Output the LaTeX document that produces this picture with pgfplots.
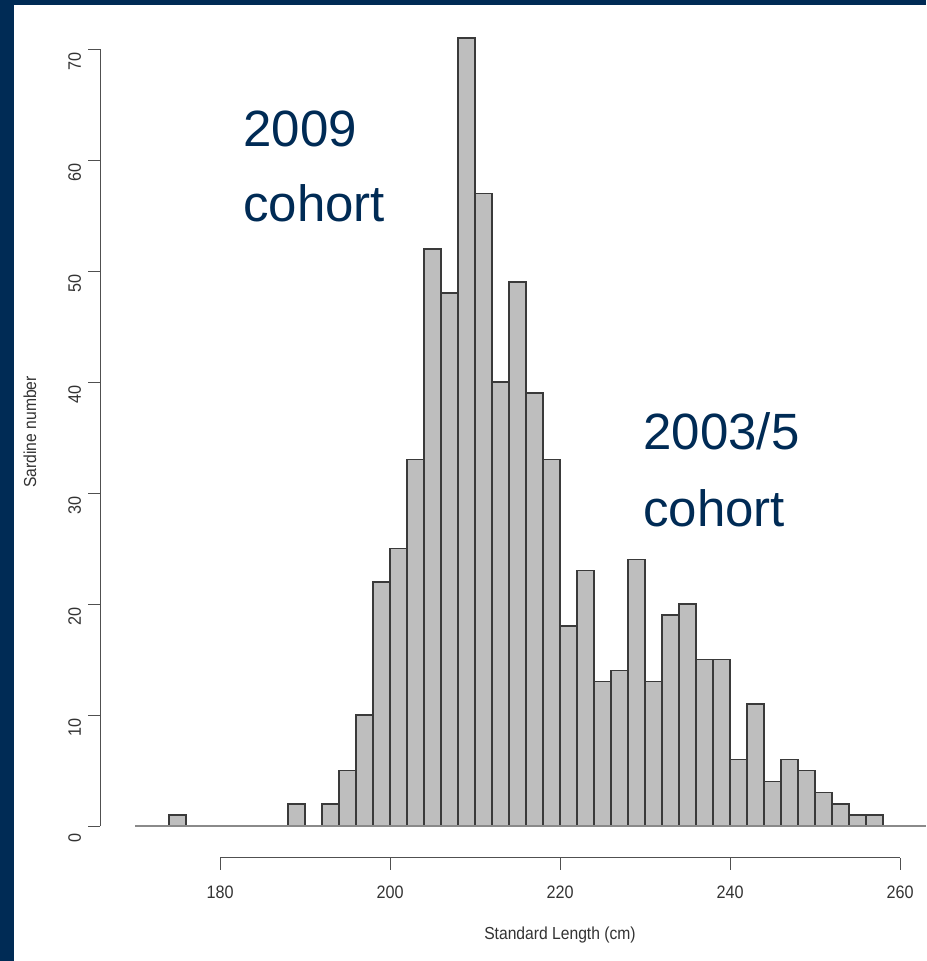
\documentclass[border=0pt]{standalone}
\usepackage{pgfplots}
\pgfplotsset{compat=1.18}
\usepackage{fontspec}
\setmainfont{Liberation Sans}
\newfontfamily\rfont[FakeStretch=0.9]{Liberation Sans}
\definecolor{navy}{HTML}{002B55}
\definecolor{barfill}{HTML}{BEBEBE}
\definecolor{baredge}{HTML}{3A3A3A}
\definecolor{axisgray}{HTML}{505050}
\definecolor{basegray}{HTML}{8A8A8A}

% standard-length frequencies, 2 cm bins (left edge, count)
\pgfplotstableread{
x    n
174  1
176  0
178  0
180  0
182  0
184  0
186  0
188  2
190  0
192  2
194  5
196  10
198  22
200  25
202  33
204  52
206  48
208  71
210  57
212  40
214  49
216  39
218  33
220  18
222  23
224  13
226  14
228  24
230  13
232  19
234  20
236  15
238  15
240  6
242  11
244  4
246  6
248  5
250  3
252  2
254  1
256  1
258  0
}\lengths

\begin{document}
\begin{tikzpicture}
\useasboundingbox (0,0) rectangle (463pt,480.5pt);
\fill[navy] (0,0) rectangle (463pt,480.5pt);
\fill[white] (7pt,0) rectangle (463pt,478pt);
\begin{axis}[
  at={(50pt,51.5pt)}, anchor=south west,
  x=4.25pt, y=5.55pt,
  xmin=165.88, xmax=263.06,
  ymin=-2.88, ymax=72,
  clip=false,
  axis lines=left,
  axis line style={draw=none},
  tick align=outside,
  major tick length=6pt,
  tick style={axisgray, line width=0.5pt},
  xtick={180,200,...,260},
  ytick={0,10,...,70},
  minor tick num=0,
  /pgf/number format/assume math mode=true,
  ticklabel style={font=\rfont\fontsize{9}{10}\selectfont, text=black!80},
  xticklabel style={yshift=-4.5pt},
  yticklabel style={rotate=90, anchor=south, xshift=-6pt},
]
  % histogram
  \addplot[ybar interval, fill=barfill, draw=baredge, line width=0.75pt]
    table[x=x, y=n] {\lengths};
  % zero line
  \addplot[basegray, line width=0.75pt, no marks] coordinates {(170,0) (263.06,0)};
  % detached R-style axes
  \draw[axisgray, line width=0.5pt] (axis cs:180,-2.88) -- (axis cs:260,-2.88);
  \draw[axisgray, line width=0.5pt] (axis cs:165.88,0) -- (axis cs:165.88,70);
\end{axis}
\node[font=\rfont\fontsize{8.7}{10}\selectfont, text=black!80] at (280pt,13pt) {Standard Length (cm)};
\node[font=\rfont\fontsize{8.7}{10}\selectfont, text=black!80, rotate=90] at (15pt,264.5pt) {Sardine number};
\begin{scope}[every node/.style={anchor=base west, inner sep=0pt, text=navy, font=\fontsize{25.5}{30}\selectfont}]
  \node at (121.5pt,407pt) {2009};
  \node at (121.5pt,369.5pt) {cohort};
  \node at (321.5pt,255.5pt) {2003/5};
  \node at (321.5pt,217pt) {cohort};
\end{scope}
\end{tikzpicture}
\end{document}
